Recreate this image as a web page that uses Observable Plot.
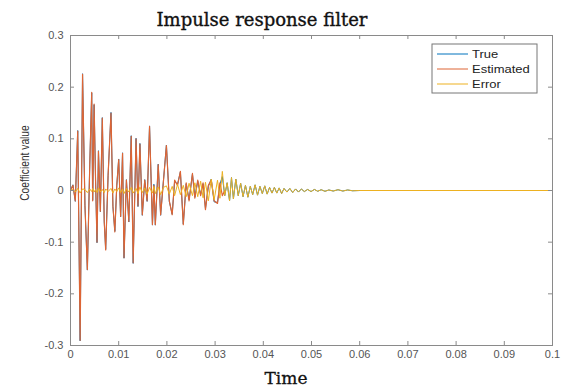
<!DOCTYPE html>
<html><head><meta charset="utf-8">
<script src="https://cdn.jsdelivr.net/npm/d3@7"></script>
<script src="https://cdn.jsdelivr.net/npm/@observablehq/plot@0.6"></script>
<style>html,body{margin:0;padding:0;background:#fff} svg{display:block}</style>
</head><body><div id="chart"></div>
<script>
// sample times (s)
const times = [
0,0.0005,0.0010,0.0015,0.0020,0.0025,0.0030,0.0035,0.0040,0.0044,
0.0046,0.0049,0.0052,0.0055,0.0058,0.0062,0.0066,0.0070,0.0073,0.0078,
0.0084,0.0088,0.0092,0.0096,0.0100,0.0104,0.0108,0.0111,0.0116,0.0121,
0.0126,0.0130,0.0136,0.0140,0.0144,0.0149,0.0154,0.0159,0.0164,0.0170,
0.0173,0.0176,0.0182,0.0187,0.0193,0.0199,0.0205,0.0211,0.0216,0.0222,
0.0228,0.0234,0.0240,0.0246,0.0253,0.0258,0.0264,0.0270,0.0275,0.0280,
0.0286,0.0292,0.0298,0.0305,0.0310,0.0315,0.0320,
0.0325,0.0330,0.0334,0.0338,0.0343,0.0348,0.0353,0.0358,0.0363,0.0368,
0.0373,0.0378,0.0383,0.0388,0.0393,0.0398,0.0403,0.0408,0.0413,0.0418,
0.0423,0.0428,0.0433,0.0438,0.0443,0.0449,0.0455,0.0461,0.0467,0.0473,
0.0479,0.0485,0.0492,0.0499,0.0506,0.0513,0.0520,0.0528,0.0536,0.0545,
0.0555,0.0565,0.0575,0.0585,0.0600,0.1000];

const trueVals = [
0,0.011,-0.021,0.116,-0.291,0.226,-0.029,-0.154,0.051,0.189,
-0.019,0.166,0.021,-0.101,0.077,-0.041,0.141,-0.061,-0.114,0.029,
0.151,-0.031,-0.079,0.009,0.061,-0.051,0.073,-0.131,0.021,-0.061,
0.106,-0.141,0.101,-0.031,0.091,-0.048,0.021,-0.021,0.125,-0.067,
0.012,-0.067,0.051,-0.048,0.021,0.088,-0.021,-0.046,0.018,0.012,
0.036,-0.065,0.013,-0.018,0.032,-0.013,0.018,-0.008,0.013,-0.035,
0.008,0.022,-0.022,-0.023,0.012,0.027,-0.01,
0.015,-0.02,0.025,-0.016,0.022,-0.01,0.014,-0.012,0.01,-0.013,
0.008,-0.008,0.011,-0.009,0.008,-0.006,0.009,-0.007,0.006,-0.005,
0.006,-0.005,0.005,-0.006,0.004,-0.003,0.004,-0.004,0.003,-0.003,
0.003,-0.002,0.002,-0.002,0.002,-0.0015,0.0015,-0.0015,0.001,-0.001,
0.0015,-0.001,0.001,-0.0005,0,0];

const estVals = [
0,0.01,-0.02,0.115,-0.29,0.225,-0.03,-0.153,0.05,0.19,
-0.02,0.167,0.02,-0.10,0.076,-0.04,0.14,-0.06,-0.115,0.03,
0.15,-0.03,-0.08,0.01,0.06,-0.05,0.072,-0.13,0.02,-0.06,
0.105,-0.14,0.10,-0.03,0.09,-0.047,0.02,-0.02,0.124,-0.066,
0.01,-0.066,0.05,-0.047,0.02,0.087,-0.02,-0.047,0.02,0.01,
0.037,-0.066,0.015,-0.02,0.033,-0.015,0.02,-0.01,0.015,-0.037,
0.01,0.02,-0.02,-0.025,0.015,-0.01,0];

const errVals = [
0,0.002,-0.003,0.004,-0.005,0.003,0.002,-0.004,0.003,-0.002,
0.004,-0.003,0.002,-0.004,0.005,-0.003,0.002,-0.004,0.003,-0.002,
0.004,-0.005,0.003,-0.002,0.005,-0.004,0.003,-0.006,0.004,-0.003,
0.006,-0.005,0.004,-0.006,0.007,-0.004,0.005,-0.007,0.006,-0.005,
0.008,-0.006,0.007,-0.008,0.006,0.009,-0.007,0.008,-0.01,0.012,
-0.008,0.01,-0.012,0.014,-0.01,0.015,-0.012,0.018,-0.014,0.016,
-0.02,0.022,-0.018,0.02,-0.015,0.037,-0.01,
0.015,-0.02,0.025,-0.016,0.022,-0.01,0.014,-0.012,0.01,-0.013,
0.008,-0.008,0.011,-0.009,0.008,-0.006,0.009,-0.007,0.006,-0.005,
0.006,-0.005,0.005,-0.006,0.004,-0.003,0.004,-0.004,0.003,-0.003,
0.003,-0.002,0.002,-0.002,0.002,-0.0015,0.0015,-0.0015,0.001,-0.001,
0.0015,-0.001,0.001,-0.0005,0,0];

const xTicks = [0,0.01,0.02,0.03,0.04,0.05,0.06,0.07,0.08,0.09,0.1];
const yTicks = [-0.3,-0.2,-0.1,0,0.1,0.2,0.3];
const seriesNames = ["True","Estimated","Error"];
const seriesColors = ["#0072BD","#DD6535","#EDB120"];
const titleText = "Impulse response filter";
const xLabel = "Time";
const yLabel = "Coefficient value";

const W = 562, H = 390, mL = 70, mR = 10, mT = 35, mB = 45;
const fw = W - mL - mR, fh = H - mT - mB;

const trueRows = times.map((t, i) => ({t, v: trueVals[i]}));
const estRows = estVals.map((v, i) => ({t: times[i], v}));
const errRows = times.map((t, i) => ({t, v: errVals[i]}));

const axisCol = "#8a8a8a";
const svg = Plot.plot({
  width: W, height: H,
  marginLeft: mL, marginRight: mR, marginTop: mT, marginBottom: mB,
  style: {fontFamily: "'Liberation Sans', Arial, sans-serif", fontSize: "11px", color: "#555", background: "#fff"},
  x: {domain: [0, 0.1]},
  y: {domain: [-0.3, 0.3]},
  marks: [
    Plot.line(trueRows, {x: "t", y: "v", stroke: seriesColors[0], strokeWidth: 1}),
    Plot.line(estRows, {x: "t", y: "v", stroke: seriesColors[1], strokeWidth: 1.2}),
    Plot.line(errRows, {x: "t", y: "v", stroke: seriesColors[2], strokeWidth: 1}),
    Plot.ruleX(xTicks, {x: d => d, insetTop: fh - 4, stroke: axisCol}),
    Plot.ruleX(xTicks, {x: d => d, insetBottom: fh - 4, stroke: axisCol}),
    Plot.ruleY(yTicks, {y: d => d, insetRight: fw - 4, stroke: axisCol}),
    Plot.ruleY(yTicks, {y: d => d, insetLeft: fw - 4, stroke: axisCol}),
    Plot.frame({stroke: axisCol}),
    Plot.axisX({ticks: xTicks, tickSize: 0, tickPadding: 5, tickFormat: d => String(d), label: null}),
    Plot.axisY({ticks: yTicks, tickSize: 0, tickPadding: 7, tickFormat: d => String(d), label: null})
  ]
});

const s = d3.select(svg);
s.append("text").text(titleText)
  .attr("x", 262).attr("y", 26).attr("text-anchor", "middle")
  .attr("font-family", "'DejaVu Serif', serif").attr("font-size", 18)
  .attr("fill", "#111").attr("stroke", "#111").attr("stroke-width", 0.35);
s.append("text").text(xLabel)
  .attr("x", 286).attr("y", 384).attr("text-anchor", "middle")
  .attr("font-family", "'DejaVu Serif', serif").attr("font-size", 17)
  .attr("fill", "#111").attr("stroke", "#111").attr("stroke-width", 0.3);
s.append("text").text(yLabel)
  .attr("transform", "translate(29,163) rotate(-90) scale(0.82,1)")
  .attr("text-anchor", "middle")
  .attr("font-family", "'Liberation Sans', Arial, sans-serif").attr("font-size", 12.5).attr("fill", "#333");

const lg = s.append("g");
lg.append("rect").attr("x", 432).attr("y", 44).attr("width", 105).attr("height", 49)
  .attr("fill", "#fff").attr("stroke", "#777");
const ly = [54, 69, 84];
seriesNames.forEach((n, i) => {
  lg.append("line").attr("x1", 437).attr("x2", 468).attr("y1", ly[i]).attr("y2", ly[i])
    .attr("stroke", seriesColors[i]).attr("stroke-width", 1);
  lg.append("text").text(n)
    .attr("transform", `translate(472,${ly[i] + 3.5}) scale(1.3,1)`)
    .attr("text-anchor", "start")
    .attr("font-family", "'Liberation Sans', Arial, sans-serif").attr("font-size", 10).attr("fill", "#222");
});

document.getElementById("chart").appendChild(svg);
</script>
</body></html>
